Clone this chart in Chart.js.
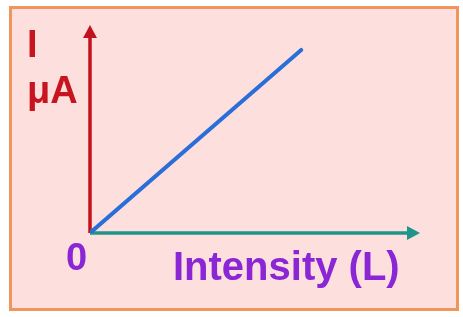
<!DOCTYPE html>
<html>
<head>
<meta charset="utf-8">
<script src="https://cdn.jsdelivr.net/npm/chart.js@4"></script>
<style>
  html, body { margin: 0; padding: 0; background: #ffffff; }
  #cadre {
    position: absolute; left: 9px; top: 6px; width: 444px; height: 299px;
    background: #fde0de; border: 3px solid #f0955c;
  }
  #graphe { position: absolute; left: 0; top: 0; }
</style>
</head>
<body>
<div id="cadre"></div>
<canvas id="graphe" width="463" height="317"></canvas>
<script>
// donnees du graphe (courant proportionnel a l'intensite)
var intensite = [0, 0.64];
var courant = [0, 0.88];
var labelOrigine = "0";
var titreY = ["I", "μA"];
var titreX = "Intensity (L)";

var points = [];
intensite.forEach((v, i) => {
  points.push({ x: v, y: courant[i] });
});

// Plugin pour dessiner les axes avec fleches et les textes
var axesFleches = {
  id: "axesFleches",
  beforeDatasetsDraw(chart) {
    var ctx = chart.ctx;
    var sx = chart.scales.x;
    var sy = chart.scales.y;
    var x0 = sx.getPixelForValue(0);
    var y0 = sy.getPixelForValue(0);
    var xMax = sx.getPixelForValue(1);
    var yMax = sy.getPixelForValue(1);

    ctx.save();
    // axe vertical rouge
    ctx.strokeStyle = "#c3121c";
    ctx.fillStyle = "#c3121c";
    ctx.lineWidth = 3.5;
    ctx.beginPath();
    ctx.moveTo(x0, y0);
    ctx.lineTo(x0, yMax + 10);
    ctx.stroke();
    ctx.beginPath();
    ctx.moveTo(x0, yMax);
    ctx.lineTo(x0 - 7, yMax + 13);
    ctx.lineTo(x0 + 7, yMax + 13);
    ctx.closePath();
    ctx.fill();

    // axe horizontal vert
    ctx.strokeStyle = "#1f9488";
    ctx.fillStyle = "#1f9488";
    ctx.beginPath();
    ctx.moveTo(x0, y0);
    ctx.lineTo(xMax - 10, y0);
    ctx.stroke();
    ctx.beginPath();
    ctx.moveTo(xMax, y0);
    ctx.lineTo(xMax - 13, y0 - 7);
    ctx.lineTo(xMax - 13, y0 + 7);
    ctx.closePath();
    ctx.fill();

    // textes
    ctx.font = "bold 38px 'Liberation Sans', Arial, sans-serif";
    ctx.textBaseline = "alphabetic";
    ctx.textAlign = "left";
    ctx.fillStyle = "#c8141e";
    ctx.fillText(titreY[0], x0 - 63, yMax + 32);
    ctx.fillText(titreY[1], x0 - 63, yMax + 78);

    ctx.fillStyle = "#8a26d6";
    ctx.fillText(labelOrigine, x0 - 24, y0 + 37);
    ctx.font = "bold 40px 'Liberation Sans', Arial, sans-serif";
    ctx.fillText(titreX, x0 + 83, y0 + 47);
    ctx.restore();
  },
};

var ctx = document.getElementById("graphe").getContext("2d");
var monGraphe = new Chart(ctx, {
  type: "scatter",
  data: {
    datasets: [
      {
        data: points,
        showLine: true,
        borderColor: "#2a6ed8",
        borderWidth: 4,
        pointRadius: 0,
        borderCapStyle: "round",
      },
    ],
  },
  options: {
    responsive: false,
    animation: false,
    layout: { padding: { left: 90, right: 43, top: 25, bottom: 84 } },
    scales: {
      x: { type: "linear", min: 0, max: 1, display: false },
      y: { type: "linear", min: 0, max: 1, display: false },
    },
    plugins: {
      legend: { display: false },
      tooltip: { enabled: false },
    },
  },
  plugins: [axesFleches],
});
</script>
</body>
</html>
